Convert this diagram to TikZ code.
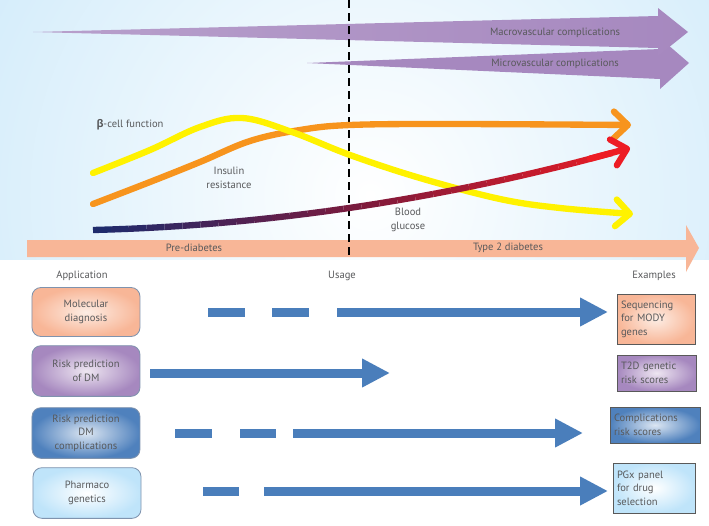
\documentclass[tikz,border=0pt]{standalone}
\usepackage{fontspec}
\setmainfont{PT Sans}
\newfontfamily\greekfont{Open Sans}
\usetikzlibrary{arrows.meta}

\definecolor{panelblue}{HTML}{BCE2F8}
\definecolor{vascpurple}{HTML}{A688BF}
\definecolor{vasclight}{HTML}{EEE6F1}
\definecolor{salmon}{HTML}{F8B697}
\definecolor{salmonlight}{HTML}{FDEDE4}
\definecolor{betayellow}{HTML}{FFF200}
\definecolor{insorange}{HTML}{F7941D}
\definecolor{glunavy}{HTML}{1B2B6E}
\definecolor{glumaroon}{HTML}{7D1A3C}
\definecolor{glured}{HTML}{ED1C24}
\definecolor{usageblue}{HTML}{4A7EBB}
\definecolor{txtgray}{HTML}{58595B}
\definecolor{appblue}{HTML}{4F81BD}
\definecolor{pgxblue}{HTML}{BFE4FA}
\definecolor{boxedge}{HTML}{7F93AE}

\begin{document}
\begin{tikzpicture}[
    x=0.03cm, y=-0.03cm,
    % Text styles
    lbl/.style={
        font=\fontsize{9}{11.6}\selectfont,
        text=txtgray,
        align=center,
        inner sep=1pt
    },
    % Box styles
    appbox/.style={
        rectangle,
        rounded corners=0.27cm,
        draw=boxedge,
        line width=0.7pt,
        minimum width=3.24cm,
        minimum height=1.52cm,
        lbl
    },
    exbox/.style={
        rectangle,
        draw=black!65,
        line width=0.8pt,
        inner sep=0.12cm,
        lbl,
        align=left
    },
    % Line styles
    curve/.style={
        line width=0.19cm,
        line cap=round,
        line join=round
    },
    curvetip/.style={
        -{Straight Barb[length=0.42cm, width=0.8cm, round]}
    },
    onsetline/.style={
        black,
        line width=2pt,
        dash pattern=on 0.24cm off 0.15cm
    },
    usage/.style={
        usageblue,
        line width=0.27cm,
        -{Triangle[length=0.84cm, width=0.81cm]}
    }
]
\useasboundingbox (0,0) rectangle (709,525);
\fill[white] (0,0) rectangle (709,525);

% === Disease course panel ===
\begin{scope}
    \clip (0,0) rectangle (709,259);
    \fill[panelblue] (0,0) rectangle (709,259);
    \shade[inner color=white, outer color=panelblue] (370,195) circle (20.4cm);
\end{scope}

% Complication arrows
\shade[left color=vascpurple, middle color=vasclight, right color=vascpurple]
    (307,63) -- (660,49) -- (660,38) -- (689,63) -- (660,89) -- (660,79) -- cycle;
\shade[left color=vascpurple!80, middle color=vasclight, right color=vascpurple]
    (33,32) -- (658,16) -- (658,8) -- (688,32) -- (658,56) -- (658,48) -- cycle;
\node[lbl] (macro) at (555,33) {Macrovascular complications};
\node[lbl] (micro) at (555,64) {Microvascular complications};

% Stage arrow
\shade[left color=salmon, middle color=salmonlight, right color=salmon]
    (27,240) -- (686,240) -- (686,225) -- (699,248) -- (686,272) -- (686,257) -- (27,257) -- cycle;
\node[lbl] (prediab) at (194,248) {Pre-diabetes};
\node[lbl] (t2d) at (508,248) {Type 2 diabetes};

% Onset of diabetes
\coordinate (onsettop) at (349,0);
\coordinate (onsetbot) at (349,259);
\draw[onsetline] (onsettop) -- (onsetbot);

% === Curves ===
\draw[curve, insorange, curvetip] plot[smooth, tension=0.6] coordinates
    {(93,204) (150,182) (200,162) (250,141) (300,130) (350,125) (450,124) (631,125)};
\draw[curve, betayellow, curvetip] plot[smooth, tension=0.6] coordinates
    {(93,173) (150,150) (200,127) (242,118) (292,132) (350,155) (420,178) (500,199) (560,208) (633,214)};

% blood glucose, navy -> maroon -> red
\foreach \i in {0,...,14}{
    \pgfmathsetmacro\va{\i*5.37/30}
    \pgfmathsetmacro\vb{(\i+1)*5.37/30}
    \pgfmathtruncatemacro\pc{(\i+0.5)*100/15}
    \draw[curve, glumaroon!\pc!glunavy, line cap=butt]
        ({93+100*\va},{230-2.51*\va-2.376*\va*\va}) -- ({93+100*\vb},{230-2.51*\vb-2.376*\vb*\vb});
}
\foreach \i in {15,...,28}{
    \pgfmathsetmacro\va{\i*5.37/30}
    \pgfmathsetmacro\vb{(\i+1)*5.37/30}
    \pgfmathtruncatemacro\pc{(\i-14.5)*100/15}
    \draw[curve, glured!\pc!glumaroon, line cap=butt]
        ({93+100*\va},{230-2.51*\va-2.376*\va*\va}) -- ({93+100*\vb},{230-2.51*\vb-2.376*\vb*\vb});
}
\draw[curve, glured, curvetip] (590,158.6) -- (630,148);

\node[lbl] (beta) at (130,125) {{\greekfont\bfseries β}-cell function};
\node[lbl] (insulin) at (229,178) {Insulin\\resistance};
\node[lbl] (glucose) at (408,220) {Blood\\glucose};

% === Column headers ===
\node[lbl] (apphead) at (82,276) {Application};
\node[lbl] (usehead) at (342,276) {Usage};
\node[lbl] (exhead) at (654,276) {Examples};

% === Applications ===
\node[appbox, inner color=salmonlight, outer color=salmon, minimum height=1.47cm] (molec) at (86,312) {Molecular\\diagnosis};
\node[appbox, inner color=vasclight, outer color=vascpurple] (riskdm) at (86,371) {Risk prediction\\of DM};
\node[appbox, inner color=appblue!20, outer color=appblue] (riskcomp) at (86,433) {Risk prediction\\DM\\complications};
\node[appbox, inner color=white, outer color=pgxblue] (pharma) at (87,493) {Pharmaco\\genetics};

% === Examples ===
\node[exbox, inner color=salmonlight, outer color=salmon, minimum width=2.34cm, minimum height=1.5cm, text width=2.1cm] (mody) at (656,319) {Sequencing\\for MODY\\genes};
\node[exbox, inner color=vasclight, outer color=vascpurple, minimum width=2.37cm, minimum height=1.08cm, text width=2.13cm] (grs) at (656.5,373) {T2D genetic\\risk scores};
\node[exbox, inner color=appblue!20, outer color=appblue, minimum width=2.7cm, minimum height=1.08cm, text width=2.46cm] (compscore) at (655,425) {Complications\\risk scores};
\node[exbox, inner color=white, outer color=pgxblue, minimum width=2.46cm, minimum height=1.5cm, text width=2.22cm] (pgx) at (654,488) {PGx panel\\for drug\\selection};

% === Usage arrows ===
\coordinate (molecstart) at (208,312);
\coordinate (molecend) at (608,312);
\coordinate (riskdmstart) at (150,373);
\coordinate (riskdmend) at (390,373);
\coordinate (riskcompstart) at (175,433);
\coordinate (riskcompend) at (583,433);
\coordinate (pharmastart) at (203,491);
\coordinate (pharmaend) at (608,491);

\draw[usage, dash pattern=on 1.11cm off 0.81cm on 1.11cm off 0.84cm on 20cm] (molecstart) -- (molecend);
\draw[usage] (riskdmstart) -- (riskdmend);
\draw[usage, dash pattern=on 1.11cm off 0.84cm on 1.08cm off 0.51cm on 20cm] (riskcompstart) -- (riskcompend);
\draw[usage, dash pattern=on 1.08cm off 0.75cm on 20cm] (pharmastart) -- (pharmaend);

\end{tikzpicture}
\end{document}
